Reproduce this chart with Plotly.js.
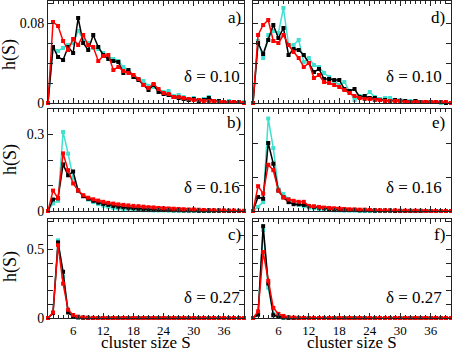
<!DOCTYPE html>
<html>
<head>
<meta charset="utf-8">
<script src="https://cdn.plot.ly/plotly-3.0.1.min.js"></script>
<style>
  html, body { margin: 0; padding: 0; background: #fff; }
  #chart { width: 452px; height: 354px; }
</style>
</head>
<body>
<div id="chart"></div>
<script>
// cluster size S
const sizes = [1, 2, 3, 4, 5, 6, 7, 8, 9, 10, 11, 12, 13, 14, 15, 16, 17, 18, 19, 20,
  21, 22, 23, 24, 25, 26, 27, 28, 29, 30, 31, 32, 33, 34, 35, 36, 37, 38, 39, 40];

// panel a) delta = 0.10
const cyanA = [0, 0.055, 0.052, 0.055, 0.058, 0.060, 0.072, 0.064, 0.060, 0.055, 0.054, 0.050, 0.046, 0.044, 0.042, 0.036, 0.033, 0.028, 0.024, 0.022,
  0.017, 0.016, 0.013, 0.011, 0.012, 0.007, 0.008, 0.006, 0.004, 0.005, 0.003, 0.004, 0.006, 0.002, 0.002, 0.001, 0.002, 0.001, 0.001, 0.001];
const blackA = [0, 0.056, 0.046, 0.043, 0.056, 0.050, 0.085, 0.060, 0.053, 0.068, 0.056, 0.048, 0.044, 0.042, 0.041, 0.030, 0.033, 0.026, 0.023, 0.018,
  0.013, 0.018, 0.011, 0.009, 0.008, 0.006, 0.005, 0.004, 0.003, 0.004, 0.002, 0.003, 0.005, 0.002, 0.002, 0.001, 0.001, 0.001, 0.001, 0];
const redA = [0, 0.081, 0.077, 0.062, 0.053, 0.064, 0.058, 0.068, 0.058, 0.056, 0.042, 0.047, 0.048, 0.033, 0.036, 0.032, 0.030, 0.028, 0.024, 0.018,
  0.015, 0.019, 0.014, 0.010, 0.009, 0.006, 0.006, 0.005, 0.004, 0.003, 0.003, 0.002, 0.002, 0.002, 0.001, 0.001, 0.001, 0.001, 0.001, 0];

// panel b) delta = 0.16
const cyanB = [0, 0.030, 0.040, 0.310, 0.225, 0.130, 0.080, 0.060, 0.045, 0.035, 0.027, 0.021, 0.016, 0.012, 0.010, 0.008, 0.006, 0.005, 0.004, 0.003,
  0.003, 0.002, 0.002, 0.002, 0.001, 0.001, 0.001, 0.001, 0.001, 0.001, 0, 0, 0, 0, 0, 0, 0, 0, 0, 0];
const blackB = [0, 0.045, 0.050, 0.183, 0.140, 0.155, 0.080, 0.058, 0.048, 0.040, 0.033, 0.028, 0.024, 0.020, 0.017, 0.015, 0.013, 0.011, 0.009, 0.008,
  0.007, 0.006, 0.005, 0.005, 0.004, 0.003, 0.003, 0.002, 0.002, 0.002, 0.001, 0.001, 0.001, 0.001, 0.001, 0.001, 0, 0, 0, 0];
const redB = [0, 0.080, 0.050, 0.226, 0.160, 0.108, 0.080, 0.062, 0.052, 0.046, 0.041, 0.036, 0.032, 0.029, 0.026, 0.024, 0.022, 0.020, 0.019, 0.017,
  0.015, 0.014, 0.012, 0.011, 0.010, 0.009, 0.008, 0.007, 0.006, 0.006, 0.005, 0.004, 0.004, 0.003, 0.003, 0.002, 0.002, 0.002, 0.001, 0.001];

// panel c) delta = 0.27
const cyanC = [0, 0.036, 0.565, 0.300, 0.050, 0.015, 0.005, 0.002, 0.001, 0, 0, 0, 0, 0, 0, 0, 0, 0, 0, 0,
  0, 0, 0, 0, 0, 0, 0, 0, 0, 0, 0, 0, 0, 0, 0, 0, 0, 0, 0, 0];
const blackC = [0, 0.036, 0.550, 0.336, 0.040, 0.012, 0.004, 0.002, 0.001, 0, 0, 0, 0, 0, 0, 0, 0, 0, 0, 0,
  0, 0, 0, 0, 0, 0, 0, 0, 0, 0, 0, 0, 0, 0, 0, 0, 0, 0, 0, 0];
const redC = [0, 0.040, 0.530, 0.250, 0.060, 0.022, 0.010, 0.004, 0.002, 0.001, 0, 0, 0, 0, 0, 0, 0, 0, 0, 0,
  0, 0, 0, 0, 0, 0, 0, 0, 0, 0, 0, 0, 0, 0, 0, 0, 0, 0, 0, 0];

// panel d) delta = 0.10
const cyanD = [0, 0.062, 0.045, 0.068, 0.072, 0.070, 0.095, 0.058, 0.058, 0.063, 0.041, 0.045, 0.038, 0.036, 0.030, 0.026, 0.022, 0.018, 0.021, 0.012,
  0.003, 0.007, 0.007, 0.011, 0.006, 0.004, 0.005, 0.005, 0.003, 0.003, 0.002, 0.002, 0.002, 0.001, 0.001, 0.001, 0.001, 0, 0, 0];
const blackD = [0, 0.060, 0.049, 0.063, 0.078, 0.065, 0.075, 0.048, 0.054, 0.053, 0.048, 0.040, 0.031, 0.034, 0.024, 0.024, 0.023, 0.023, 0.014, 0.012,
  0.014, 0.006, 0.007, 0.005, 0.005, 0.003, 0.003, 0.002, 0.003, 0.002, 0.002, 0.001, 0.002, 0.001, 0.001, 0.001, 0.001, 0.001, 0, 0];
const redD = [0, 0.068, 0.078, 0.083, 0.062, 0.060, 0.068, 0.058, 0.051, 0.045, 0.036, 0.040, 0.025, 0.028, 0.021, 0.020, 0.018, 0.016, 0.013, 0.010,
  0.007, 0.005, 0.004, 0.004, 0.003, 0.003, 0.002, 0.002, 0.002, 0.002, 0.001, 0.001, 0.001, 0.001, 0.001, 0.001, 0.001, 0.001, 0.001, 0];

// panel e) delta = 0.16
const cyanE = [0, 0.012, 0.026, 0.272, 0.185, 0.064, 0.050, 0.035, 0.025, 0.018, 0.014, 0.010, 0.008, 0.006, 0.004, 0.003, 0.002, 0.002, 0.001, 0.001,
  0.001, 0, 0, 0, 0, 0, 0, 0, 0, 0, 0, 0, 0, 0, 0, 0, 0, 0, 0, 0];
const blackE = [0, 0.041, 0.036, 0.200, 0.139, 0.060, 0.040, 0.026, 0.020, 0.020, 0.018, 0.014, 0.012, 0.010, 0.008, 0.006, 0.005, 0.004, 0.004, 0.003,
  0.003, 0.002, 0.002, 0.002, 0.001, 0.001, 0.001, 0.001, 0, 0, 0, 0, 0, 0, 0, 0, 0, 0, 0, 0];
const redE = [0, 0.073, 0.051, 0.136, 0.120, 0.060, 0.040, 0.034, 0.030, 0.027, 0.027, 0.015, 0.014, 0.012, 0.010, 0.009, 0.008, 0.007, 0.006, 0.005,
  0.005, 0.004, 0.004, 0.003, 0.003, 0.002, 0.002, 0.002, 0.002, 0.001, 0.001, 0.001, 0.001, 0.001, 0, 0, 0, 0, 0, 0];

// panel f) delta = 0.27
const cyanF = [0, 0.030, 0.640, 0.220, 0.030, 0.008, 0.003, 0.001, 0, 0, 0, 0, 0, 0, 0, 0, 0, 0, 0, 0,
  0, 0, 0, 0, 0, 0, 0, 0, 0, 0, 0, 0, 0, 0, 0, 0, 0, 0, 0, 0];
const blackF = [0, 0.024, 0.668, 0.250, 0.020, 0.010, 0.003, 0.001, 0, 0, 0, 0, 0, 0, 0, 0, 0, 0, 0, 0,
  0, 0, 0, 0, 0, 0, 0, 0, 0, 0, 0, 0, 0, 0, 0, 0, 0, 0, 0, 0];
const redF = [0, 0.048, 0.480, 0.270, 0.074, 0.030, 0.015, 0.006, 0.003, 0.001, 0, 0, 0, 0, 0, 0, 0, 0, 0, 0,
  0, 0, 0, 0, 0, 0, 0, 0, 0, 0, 0, 0, 0, 0, 0, 0, 0, 0, 0, 0];

const panelLetters = ["a)", "d)", "b)", "e)", "c)", "f)"];
const deltaLabels = ["δ = 0.10", "δ = 0.10", "δ = 0.16", "δ = 0.16", "δ = 0.27", "δ = 0.27"];

const W = 452, H = 354;
const FONT = "'Liberation Serif', 'DejaVu Serif', serif";
const AXC = "#222";
const px = (x) => x / W;
const py = (y) => 1 - y / H;

const colDom = [[px(48), px(244)], [px(253), px(451)]];
const rowDom = [[py(103), py(1)], [py(211), py(109)], [py(318), py(219)]];

// [row][col] y settings
const yCfg = [
  [{ range: [0, 0.102], dtick: 0.08, minor: 0.02 }, { range: [0, 0.102], dtick: 0.08, minor: 0.02 }],
  [{ range: [0, 0.4], dtick: 0.3, minor: 0.1 }, { range: [0, 0.3], dtick: 0.3, minor: 0.1 }],
  [{ range: [0, 0.72], dtick: 0.5, minor: 0.1 }, { range: [0, 0.72], dtick: 0.5, minor: 0.1 }],
];

const panels = [
  [cyanA, blackA, redA], [cyanD, blackD, redD],
  [cyanB, blackB, redB], [cyanE, blackE, redE],
  [cyanC, blackC, redC], [cyanF, blackF, redF],
];
const colors = ["#40E0D0", "#000000", "#FF0000"];

const data = [];
const layout = {
  width: W,
  height: H,
  margin: { l: 0, r: 0, t: 0, b: 0 },
  paper_bgcolor: "#fff",
  plot_bgcolor: "#fff",
  showlegend: false,
  font: { family: FONT, color: "#000" },
  annotations: [],
};

panels.forEach((series, i) => {
  const row = Math.floor(i / 2), col = i % 2;
  const n = i + 1;
  const xa = n === 1 ? "x" : "x" + n;
  const ya = n === 1 ? "y" : "y" + n;
  series.forEach((vals, k) => {
    data.push({
      x: sizes,
      y: vals,
      xaxis: xa,
      yaxis: ya,
      mode: "lines+markers",
      cliponaxis: false,
      line: { color: colors[k], width: 1.5 },
      marker: { color: colors[k], symbol: "square", size: 4 },
      hoverinfo: "skip",
    });
  });

  const xKey = n === 1 ? "xaxis" : "xaxis" + n;
  const yKey = n === 1 ? "yaxis" : "yaxis" + n;
  layout[xKey] = {
    domain: colDom[col],
    anchor: ya,
    range: [1, 40],
    tickmode: "linear",
    tick0: 0,
    dtick: 6,
    ticks: "inside",
    ticklen: 5,
    tickcolor: AXC,
    showticklabels: row === 2,
    tickfont: { family: FONT, size: 13, color: "#000" },
    minor: { ticks: "inside", ticklen: 3, tick0: 0, dtick: 1, tickcolor: AXC, showgrid: false },
    showline: true,
    linecolor: AXC,
    linewidth: 1,
    mirror: "ticks",
    showgrid: false,
    zeroline: false,
  };
  const yc = yCfg[row][col];
  layout[yKey] = {
    domain: rowDom[row],
    anchor: xa,
    range: yc.range,
    tickmode: "linear",
    tick0: 0,
    dtick: yc.dtick,
    ticks: "inside",
    ticklen: 5,
    tickcolor: AXC,
    showticklabels: col === 0,
    tickfont: { family: FONT, size: 14, color: "#000" },
    minor: { ticks: "inside", ticklen: 5, tick0: 0, dtick: yc.minor, tickcolor: AXC, showgrid: false },
    showline: true,
    linecolor: AXC,
    linewidth: 1,
    mirror: "ticks",
    showgrid: false,
    zeroline: false,
  };

  const right = col === 0 ? 243 : 447;
  const letterY = [18, 122, 234][row];
  const deltaY = [76, 187, 297][row];
  layout.annotations.push({
    xref: "paper", yref: "paper", x: px(right), y: py(letterY),
    xanchor: "right", yanchor: "middle", showarrow: false,
    text: panelLetters[i], font: { family: FONT, size: 17, color: "#000" },
  });
  layout.annotations.push({
    xref: "paper", yref: "paper", x: px(col === 0 ? 242 : 444), y: py(deltaY),
    xanchor: "right", yanchor: "middle", showarrow: false,
    text: deltaLabels[i], font: { family: FONT, size: 17, color: "#000" },
  });
});

// axis titles
[55, 160, 267].forEach((yc) => {
  layout.annotations.push({
    xref: "paper", yref: "paper", x: px(10), y: py(yc),
    xanchor: "center", yanchor: "middle", showarrow: false, textangle: -90,
    text: "h(S)", font: { family: FONT, size: 18, color: "#000" },
  });
});
[146, 352].forEach((xc) => {
  layout.annotations.push({
    xref: "paper", yref: "paper", x: px(xc), y: 0,
    xanchor: "center", yanchor: "bottom", showarrow: false,
    text: "cluster size S", font: { family: FONT, size: 17, color: "#000" },
  });
});

Plotly.newPlot("chart", data, layout, { staticPlot: true, displayModeBar: false });
</script>
</body>
</html>
